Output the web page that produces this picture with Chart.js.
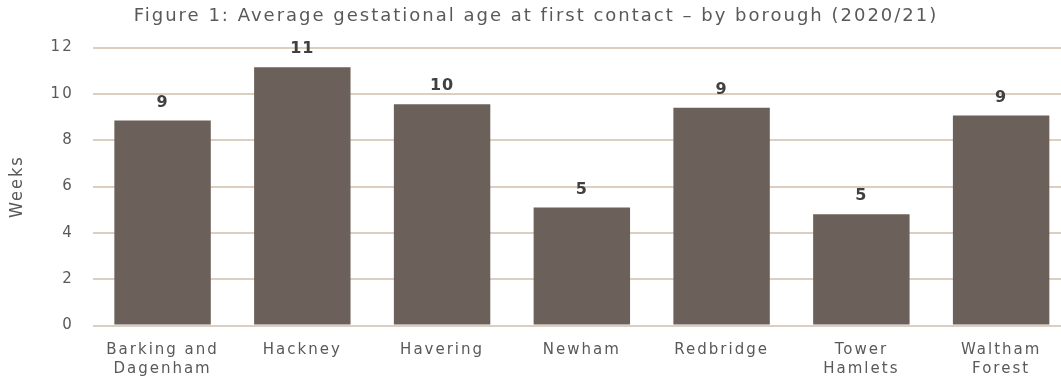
<!DOCTYPE html>
<html>
<head>
<meta charset="utf-8">
<script src="https://cdn.jsdelivr.net/npm/chart.js@4"></script>
<style>
  html, body { margin: 0; padding: 0; background: #fff; overflow: hidden; }
  #wrap { width: 1071px; height: 385px; }
</style>
</head>
<body>
<div id="wrap"><canvas id="chart"></canvas></div>
<script>
const boroughs = [["Barking and", "Dagenham"], "Hackney", "Havering", "Newham", "Redbridge", ["Tower", "Hamlets"], ["Waltham", "Forest"]];
const weeks = [8.85, 11.15, 9.55, 5.1, 9.4, 4.8, 9.07];
const yTicks = [0, 2, 4, 6, 8, 10, 12];

// the source chart's text is set wide, so widen ours a bit
const spacing = {
    id: "spacing",
    beforeLayout(chart) { chart.ctx.letterSpacing = "2px"; },
    beforeDraw(chart) { chart.ctx.letterSpacing = "2px"; }
};

const valueLabels = {
    id: "valueLabels",
    afterDatasetsDraw(chart) {
        const ctx = chart.ctx;
        const meta = chart.getDatasetMeta(0);
        ctx.save();
        ctx.letterSpacing = "1px";
        ctx.font = "bold 16px 'DejaVu Sans'";
        ctx.fillStyle = "#404040";
        ctx.textAlign = "center";
        ctx.textBaseline = "bottom";
        meta.data.forEach((bar, i) => {
            ctx.fillText(Math.round(weeks[i]), bar.x, bar.y - 10);
        });
        ctx.restore();
    }
};

new Chart(document.getElementById("chart"), {
    type: "bar",
    data: {
        labels: boroughs,
        datasets: [{
            data: weeks,
            backgroundColor: "#6b615a",
            categoryPercentage: 1,
            barPercentage: 0.69
        }]
    },
    options: {
        responsive: true,
        maintainAspectRatio: false,
        animation: false,
        layout: {padding: {left: 1, top: 0, bottom: 0, right: 0}},
        plugins: {
            legend: {display: false},
            tooltip: {enabled: false},
            title: {
                display: true,
                text: "Figure 1: Average gestational age at first contact \u2013 by borough (2020/21)",
                color: "#595959",
                font: {family: "'DejaVu Sans'", size: 18, weight: "normal"},
                padding: {top: 6, bottom: 20}
            }
        },
        scales: {
            x: {
                grid: {display: false},
                border: {display: false},
                ticks: {
                    color: "#595959",
                    font: {family: "'DejaVu Sans'", size: 15, lineHeight: 1.25},
                    padding: 7,
                    maxRotation: 0
                }
            },
            y: {
                min: 0,
                max: 12,
                afterBuildTicks: axis => { axis.ticks = yTicks.map(v => ({value: v})); },
                grid: {color: "#dccfc2", lineWidth: 2, drawTicks: false},
                border: {display: false},
                ticks: {
                    color: "#595959",
                    font: {family: "'DejaVu Sans'", size: 15},
                    padding: 19
                },
                title: {
                    display: true,
                    text: "Weeks",
                    color: "#595959",
                    font: {family: "'Liberation Sans Narrow', 'DejaVu Sans Condensed'", size: 18},
                    padding: {top: 6, bottom: 3}
                }
            }
        }
    },
    plugins: [spacing, valueLabels]
});
</script>
</body>
</html>
